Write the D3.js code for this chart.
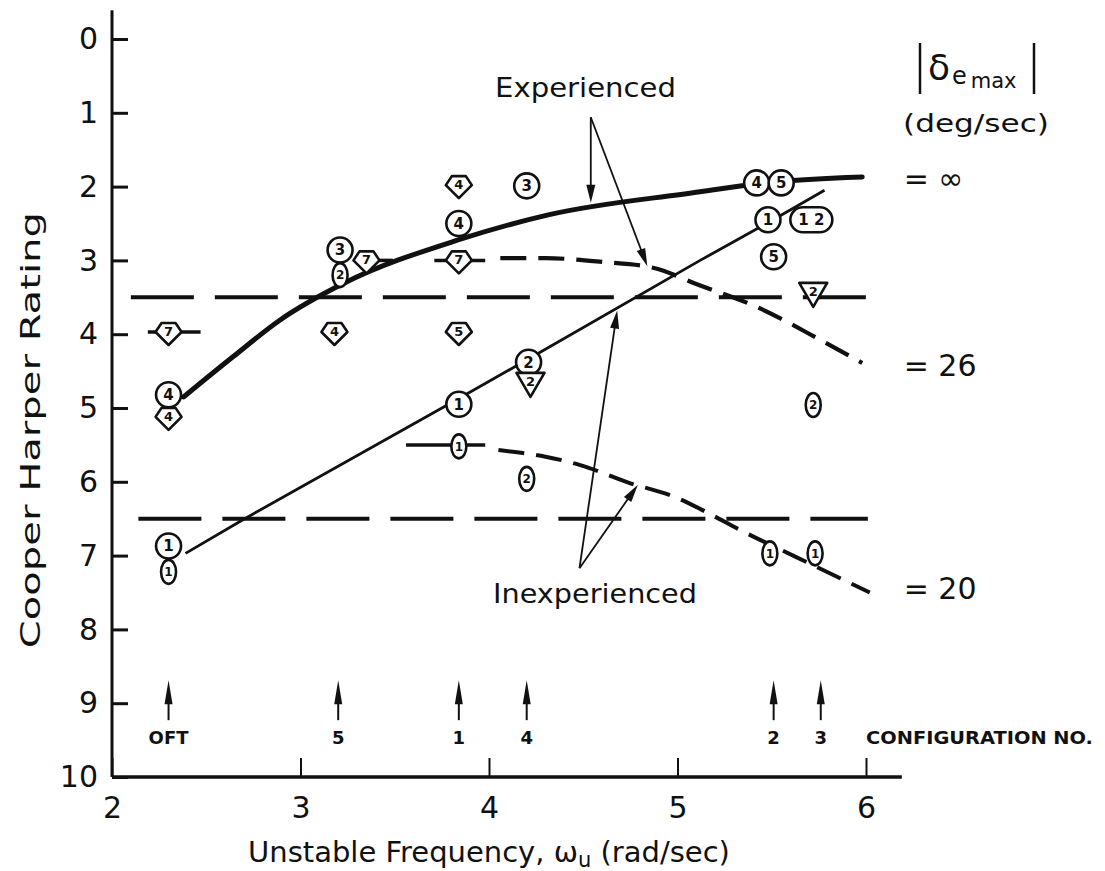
<!DOCTYPE html>
<html><head><meta charset="utf-8">
<script src="https://cdn.jsdelivr.net/npm/d3@7"></script>
<style>
body{margin:0;background:#fff}
svg{display:block;background:#fff}
text{font-family:"DejaVu Sans",sans-serif;fill:#111}
</style>
</head><body>
<svg id="c" width="1105" height="871"></svg>
<script>
// ---------- data ----------
const xTicks = [2, 3, 4, 5, 6];
const yTicks = [0, 1, 2, 3, 4, 5, 6, 7, 8, 9, 10];

// Experienced pilots, |δe max| = ∞ (thick solid curve)
const experiencedCurve = [[2.38,4.85],[2.64,4.31],[2.89,3.81],[3.23,3.31],[3.84,2.72],[4.32,2.38],[5.12,2.07],[5.42,1.96],[5.98,1.87]];
// Inexperienced pilots, |δe max| = ∞ (thin solid line)
const inexperiencedLine = [[2.39,6.97],[2.69,6.52],[3.84,4.87],[4.2,4.35],[5.12,3.0],[5.48,2.49],[5.78,2.05]];
// |δe max| = 26 (dashed curve)
const rate26Curve = [[4.06,2.97],[4.3,2.97],[4.6,3.02],[4.87,3.1],[5.11,3.33],[5.42,3.63],[5.76,4.08],[5.98,4.39]];
// |δe max| = 20 (dashed curve)
const rate20Curve = [[4.05,5.57],[4.3,5.66],[4.48,5.77],[4.75,6.02],[4.98,6.2],[5.16,6.42],[5.33,6.65],[5.63,7.02],[6.02,7.5]];
// Cooper-Harper boundaries (long dashes)
const boundaryLevels = [3.5, 6.5];
const boundaryStart = [2.1, 2.14];
const boundaryEnd = [6.01, 6.01];

// markers: [x, rating, pilot label]
const circlePoints = [[2.3,4.82,"4"],[3.21,2.86,"3"],[3.84,2.5,"4"],[4.2,1.99,"3"],[5.42,1.95,"4"],[5.55,1.95,"5"],
                      [2.3,6.87,"1"],[3.84,4.95,"1"],[4.21,4.38,"2"],[5.48,2.45,"1"],[5.51,2.95,"5"]];
const pillPoints = [[5.71,2.45,"1 2"]];
const diamondPoints = [[2.3,3.97,"7"],[2.3,5.12,"4"],[3.18,3.97,"4"],[3.84,3.97,"5"],[3.84,1.98,"4"],[3.84,3.0,"7"],[3.35,3.0,"7"]];
const trianglePoints = [[4.22,4.66,"2"],[5.72,3.44,"2"]];
const ovalPoints = [[2.3,7.22,"1"],[3.84,5.52,"1"],[4.2,5.96,"2"],[5.72,4.96,"2"],[5.49,6.97,"1"],[5.73,6.97,"1"],[3.21,3.2,"2"]];
// flag bars on markers: [x1, x2, rating]
const flagBars = [[2.19,2.47,3.97],[3.71,3.98,3.0],[3.41,3.49,3.0],[3.56,3.98,5.5]];

// configuration markers
const configX = [2.3, 3.2, 3.84, 4.2, 5.51, 5.76];
const configLabels = ["OFT", "5", "1", "4", "2", "3"];

// annotation arrows: apex and tips
const expArrowFrom = [4.54, 1.06];
const expArrowTips = [[4.54, 2.22], [4.84, 3.08]];
const inexpArrowFrom = [4.48, 7.17];
const inexpArrowTips = [[4.68, 3.68], [4.79, 6.04]];

// right-hand δ labels
const rateLabels = ["= \u221E", "= 26", "= 20"];
const rateLabelY = [1.88, 4.42, 7.44];

// ---------- drawing ----------
const svg = d3.select("#c");
const x = d3.scaleLinear().domain([2, 6]).range([112, 866]);
const y = d3.scaleLinear().domain([0, 10]).range([39, 777]);
const ink = "#111";

// axes
const yAxis = d3.axisLeft(y).tickValues(yTicks).tickSizeInner(-16).tickSizeOuter(0).tickPadding(14).tickFormat(d3.format("d"));
const gy = svg.append("g").attr("transform", `translate(${x(2)},0)`).call(yAxis);
gy.select(".domain").remove();
gy.selectAll("line").attr("stroke", ink).attr("stroke-width", 3);
gy.selectAll("text").attr("font-size", 30).attr("fill", ink);

const xAxis = d3.axisBottom(x).tickValues(xTicks).tickSizeInner(-19).tickSizeOuter(0).tickPadding(20).tickFormat(d3.format("d"));
const gx = svg.append("g").attr("transform", `translate(0,${y(10)})`).call(xAxis);
gx.select(".domain").remove();
gx.selectAll("line").attr("stroke", ink).attr("stroke-width", 2);
gx.selectAll("text").attr("font-size", 30).attr("fill", ink);

svg.append("line").attr("x1", x(2)).attr("x2", x(2)).attr("y1", y(-0.39)).attr("y2", y(10))
  .attr("stroke", ink).attr("stroke-width", 3);
svg.append("line").attr("x1", x(2)).attr("x2", x(6.19)).attr("y1", y(10)).attr("y2", y(10))
  .attr("stroke", ink).attr("stroke-width", 3.5);

// axis titles
svg.append("text").attr("transform", `translate(40,${y(5.3)}) rotate(-90)`)
  .attr("text-anchor", "middle").attr("font-size", 27).attr("textLength", 436).attr("lengthAdjust", "spacingAndGlyphs")
  .text("Cooper Harper Rating");
const xt = svg.append("text").attr("x", 489).attr("y", 862).attr("text-anchor", "middle").attr("font-size", 29);
xt.append("tspan").text("Unstable Frequency, \u03C9");
xt.append("tspan").attr("font-size", 21).attr("dy", 5).text("u");
xt.append("tspan").attr("dy", -5).text(" (rad/sec)");

// boundary dashed lines
boundaryLevels.forEach((lv, i) => {
  svg.append("line").attr("x1", x(boundaryStart[i])).attr("x2", x(boundaryEnd[i]))
    .attr("y1", y(lv)).attr("y2", y(lv))
    .attr("stroke", ink).attr("stroke-width", 4).attr("stroke-dasharray", "63 21");
});

const line = d3.line().x(d => x(d[0])).y(d => y(d[1])).curve(d3.curveMonotoneX);
svg.append("path").attr("d", line(rate26Curve)).attr("fill", "none").attr("stroke", ink)
  .attr("stroke-width", 4.2).attr("stroke-dasharray", "26 12");
svg.append("path").attr("d", line(rate20Curve)).attr("fill", "none").attr("stroke", ink)
  .attr("stroke-width", 4).attr("stroke-dasharray", "26 12");
svg.append("path").attr("d", line(experiencedCurve)).attr("fill", "none").attr("stroke", ink)
  .attr("stroke-width", 5).attr("stroke-linecap", "round");
svg.append("path").attr("d", d3.line().x(d => x(d[0])).y(d => y(d[1]))(inexperiencedLine)).attr("fill", "none").attr("stroke", ink)
  .attr("stroke-width", 2.8);

// flag bars
flagBars.forEach(b => {
  svg.append("line").attr("x1", x(b[0])).attr("x2", x(b[1])).attr("y1", y(b[2])).attr("y2", y(b[2]))
    .attr("stroke", ink).attr("stroke-width", 3.5);
});

// arrows
function arrow(from, to, len, half, sw) {
  const fx = x(from[0]), fy = y(from[1]), tx = x(to[0]), ty = y(to[1]);
  const dx = tx - fx, dy = ty - fy, L = Math.hypot(dx, dy), ux = dx / L, uy = dy / L;
  svg.append("line").attr("x1", fx).attr("y1", fy).attr("x2", tx - ux * len * 0.6).attr("y2", ty - uy * len * 0.6)
    .attr("stroke", ink).attr("stroke-width", sw);
  const bx = tx - ux * len, by = ty - uy * len;
  svg.append("path").attr("d", `M${tx},${ty}L${bx - uy * half},${by + ux * half}L${bx + uy * half},${by - ux * half}Z`)
    .attr("fill", ink);
}
expArrowTips.forEach(t => arrow(expArrowFrom, t, 18, 4.5, 1.8));
inexpArrowTips.forEach(t => arrow(inexpArrowFrom, t, 18, 4.5, 1.8));

// markers
const mk = svg.append("g");
function label(px, py, t, fs) {
  mk.append("text").attr("x", px).attr("y", py).attr("text-anchor", "middle").attr("dy", "0.36em")
    .attr("font-size", fs).attr("font-weight", "bold").text(t);
}
circlePoints.forEach(p => {
  mk.append("circle").attr("cx", x(p[0])).attr("cy", y(p[1])).attr("r", 12.5)
    .attr("fill", "#fff").attr("stroke", ink).attr("stroke-width", 2.6);
  label(x(p[0]), y(p[1]), p[2], 15);
});
pillPoints.forEach(p => {
  mk.append("rect").attr("x", x(p[0]) - 21).attr("y", y(p[1]) - 12.5).attr("width", 42).attr("height", 25).attr("rx", 12.5)
    .attr("fill", "#fff").attr("stroke", ink).attr("stroke-width", 2.6);
  label(x(p[0]), y(p[1]), p[2], 15);
});
diamondPoints.forEach(p => {
  const px = x(p[0]), py = y(p[1]);
  mk.append("path").attr("transform", `translate(${px},${py})`).attr("d", "M-7,-9L7,-9L13,0L0,13L-13,0Z")
    .attr("fill", "#fff").attr("stroke", ink).attr("stroke-width", 2.6).attr("stroke-linejoin", "round");
  label(px, py - 1, p[2], 13);
});
trianglePoints.forEach(p => {
  const px = x(p[0]), py = y(p[1]);
  mk.append("path").attr("transform", `translate(${px},${py})`).attr("d", "M-14,-10L14,-10L0,14Z")
    .attr("fill", "#fff").attr("stroke", ink).attr("stroke-width", 2.6).attr("stroke-linejoin", "round");
  label(px, py - 2, p[2], 13);
});
ovalPoints.forEach(p => {
  mk.append("ellipse").attr("cx", x(p[0])).attr("cy", y(p[1])).attr("rx", 7.5).attr("ry", 12)
    .attr("fill", "#fff").attr("stroke", ink).attr("stroke-width", 2.6);
  label(x(p[0]), y(p[1]), p[2], 12);
});

// configuration arrows
configX.forEach((cx, i) => {
  arrow([cx, 9.23], [cx, 8.69], 24, 4, 2);
  svg.append("text").attr("x", x(cx)).attr("y", y(9.55)).attr("text-anchor", "middle")
    .attr("font-size", 18).attr("font-weight", "bold").text(configLabels[i]);
});
svg.append("text").attr("x", 866).attr("y", y(9.55)).attr("font-size", 18).attr("font-weight", "bold")
  .attr("textLength", 227).attr("lengthAdjust", "spacingAndGlyphs").text("CONFIGURATION NO.");

// curve labels
svg.append("text").attr("x", 495).attr("y", 97).attr("font-size", 27).attr("textLength", 181)
  .attr("lengthAdjust", "spacingAndGlyphs").text("Experienced");
svg.append("text").attr("x", 493).attr("y", 603).attr("font-size", 27).attr("textLength", 204)
  .attr("lengthAdjust", "spacingAndGlyphs").text("Inexperienced");

// right-hand labels
svg.append("line").attr("x1", 920).attr("x2", 920).attr("y1", 43).attr("y2", 94).attr("stroke", ink).attr("stroke-width", 2.5);
svg.append("line").attr("x1", 1034).attr("x2", 1034).attr("y1", 43).attr("y2", 94).attr("stroke", ink).attr("stroke-width", 2.5);
const dl = svg.append("text").attr("x", 928).attr("y", 80);
dl.append("tspan").attr("font-size", 36).text("\u03B4");
dl.append("tspan").attr("font-size", 24).attr("dy", 4).attr("dx", 2).text("e");
dl.append("tspan").attr("font-size", 21).attr("dy", 4).attr("dx", 4).text("max");
svg.append("text").attr("x", 903).attr("y", 132).attr("font-size", 25).attr("textLength", 146)
  .attr("lengthAdjust", "spacingAndGlyphs").text("(deg/sec)");
rateLabels.forEach((t, i) => {
  svg.append("text").attr("x", x(6.2)).attr("y", y(rateLabelY[i])).attr("dy", "0.36em").attr("font-size", 30).text(t);
});
</script>
</body></html>
